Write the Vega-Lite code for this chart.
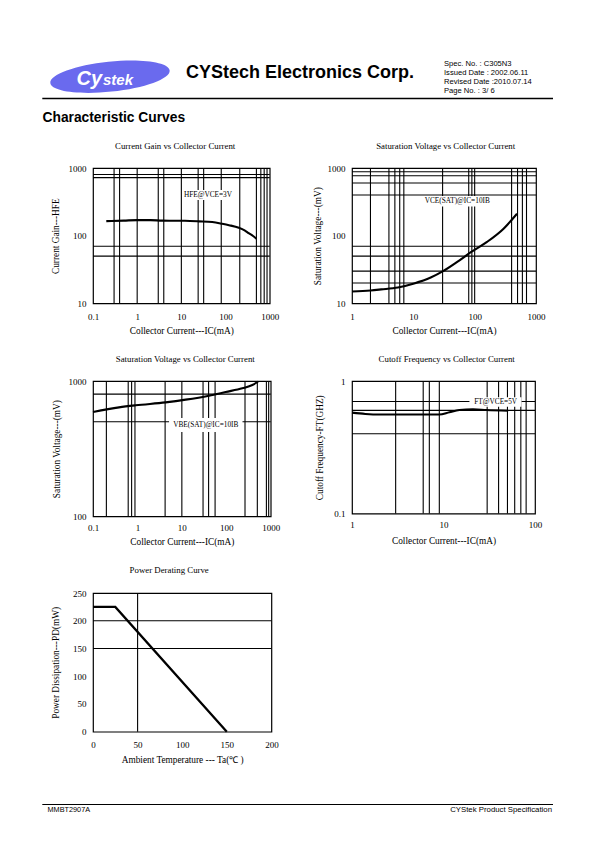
{
  "$schema": "https://vega.github.io/schema/vega-lite/v6.json",
  "padding": 0,
  "background": "white",
  "columns": 4,
  "spacing": 0,
  "bounds": "flush",
  "align": "each",
  "config": {
    "view": {"stroke": null},
    "axis": {"grid": false, "ticks": false, "tickSize": 0, "domain": false, "labelFont": "Liberation Serif", "labelFontSize": 9, "labelColor": "black", "titleFont": "Liberation Serif", "titleFontSize": 9.3, "titleFontWeight": "normal", "titleColor": "black", "labelFlush": false, "labelOverlap": false, "titleBaseline": "middle"},
    "axisBottom": {"labelPadding": 13, "labelBaseline": "middle"},
    "axisLeft": {"labelPadding": 7},
    "title": {"font": "Liberation Serif", "fontSize": 8.8, "fontWeight": "normal", "color": "black", "anchor": "middle", "frame": "group", "baseline": "middle"}
  },
  "concat": [
    {
      "width": 92.8, "height": 167.3,
      "data": {"values": [{}]},
      "layer": [
        {"mark": {"type": "point", "shape": "M -1 0 A 1 0.25 0 1 1 1 0 A 1 0.25 0 1 1 -1 0 Z", "size": 14400, "filled": true, "color": "#6a6aee", "opacity": 1, "angle": -6, "strokeWidth": 0},
         "encoding": {"x": {"datum": 110, "type": "quantitative", "scale": {"domain": [0, 92.8], "nice": false, "zero": false}, "axis": null}, "y": {"datum": 76.7, "type": "quantitative", "scale": {"domain": [0, 167.3], "nice": false, "zero": false, "reverse": true}, "axis": null}}},
        {"mark": {"type": "text", "font": "Liberation Sans", "fontSize": 20, "fontWeight": "bold", "fontStyle": "italic", "color": "white", "align": "left", "baseline": "alphabetic"},
         "encoding": {"x": {"datum": 76.5, "type": "quantitative"}, "y": {"datum": 84.5, "type": "quantitative"}, "text": {"value": "Cy"}}},
        {"mark": {"type": "text", "font": "Liberation Sans", "fontSize": 15, "fontWeight": "bold", "fontStyle": "italic", "color": "white", "align": "left", "baseline": "alphabetic"},
         "encoding": {"x": {"datum": 103, "type": "quantitative"}, "y": {"datum": 84.5, "type": "quantitative"}, "text": {"value": "stek"}}},
        {"mark": {"type": "text", "font": "Liberation Sans", "fontSize": 18, "fontWeight": "bold", "color": "black", "align": "left", "baseline": "alphabetic"},
         "encoding": {"x": {"datum": 186, "type": "quantitative"}, "y": {"datum": 78.3, "type": "quantitative"}, "text": {"value": "CYStech Electronics Corp."}}},
        {"mark": {"type": "text", "font": "Liberation Sans", "fontSize": 7.6, "color": "black", "align": "left", "baseline": "alphabetic", "lineBreak": "\n", "lineHeight": 9.1},
         "encoding": {"x": {"datum": 444, "type": "quantitative"}, "y": {"datum": 66, "type": "quantitative"}, "text": {"value": "Spec. No. : C305N3\nIssued Date : 2002.06.11\nRevised Date :2010.07.14\nPage No. : 3/ 6"}}},
        {"mark": {"type": "rule", "color": "black", "strokeWidth": 1.3},
         "encoding": {"x": {"datum": 42.3, "type": "quantitative"}, "x2": {"datum": 553}, "y": {"datum": 98.5, "type": "quantitative"}}},
        {"mark": {"type": "text", "font": "Liberation Sans", "fontSize": 13.8, "fontWeight": "bold", "color": "black", "align": "left", "baseline": "alphabetic"},
         "encoding": {"x": {"datum": 42.5, "type": "quantitative"}, "y": {"datum": 121.5, "type": "quantitative"}, "text": {"value": "Characteristic Curves"}}}
      ]
    },
    {"width": 1, "height": 1, "data": {"values": []}, "mark": "point"},
    {"width": 1, "height": 1, "data": {"values": []}, "mark": "point"},
    {"width": 1, "height": 1, "data": {"values": []}, "mark": "point"},

    {"width": 92.8, "height": 1, "data": {"values": []}, "mark": "point"},
    {
      "width": 176.7, "height": 135.4,
      "view": {"stroke": "black", "strokeWidth": 1.2},
      "title": {"text": "Current Gain vs Collector Current", "dx": -6.2, "offset": 13.4},
      "layer": [
        {"data": {"values": [{"IC": 0.3}, {"IC": 0.4}, {"IC": 1}, {"IC": 3}, {"IC": 4}, {"IC": 10}, {"IC": 24}, {"IC": 32}, {"IC": 80}, {"IC": 210}, {"IC": 500}, {"IC": 630}, {"IC": 750}, {"IC": 870}]},
         "mark": {"type": "rule", "color": "black", "strokeWidth": 1.1},
         "encoding": {"x": {"field": "IC", "type": "quantitative", "scale": {"type": "log", "domain": [0.1, 1000], "nice": false}, "axis": {"values": [0.1, 1, 10, 100, 1000], "format": "~g", "title": "Collector Current---IC(mA)", "titleX": 88.35, "titleY": 27.3}}}},
        {"data": {"values": [{"HFE": 800}, {"HFE": 720}, {"HFE": 70}, {"HFE": 50}]},
         "mark": {"type": "rule", "color": "black", "strokeWidth": 1.1},
         "encoding": {"y": {"field": "HFE", "type": "quantitative", "scale": {"type": "log", "domain": [10, 1000], "nice": false}, "axis": {"values": [10, 100, 1000], "format": "~g", "title": "Current Gain---HFE", "titleX": -37.8, "titleY": 67.7}}}},
        {"data": {"values": [{}]}, "mark": {"type": "rect", "color": "white"},
         "encoding": {"x": {"datum": 10.6, "type": "quantitative", "scale": {"type": "log", "domain": [0.1, 1000], "nice": false}}, "x2": {"datum": 158}, "y": {"datum": 338, "type": "quantitative", "scale": {"type": "log", "domain": [10, 1000], "nice": false}}, "y2": {"datum": 475}}},
        {"data": {"values": [{}]}, "mark": {"type": "text", "font": "Liberation Serif", "fontSize": 7.3, "color": "black"},
         "encoding": {"x": {"datum": 40, "type": "quantitative", "scale": {"type": "log", "domain": [0.1, 1000], "nice": false}}, "y": {"datum": 401, "type": "quantitative", "scale": {"type": "log", "domain": [10, 1000], "nice": false}}, "text": {"value": "HFE@VCE=3V"}}},
        {"data": {"values": [{"IC": 0.2, "HFE": 164}, {"IC": 0.5, "HFE": 167}, {"IC": 1, "HFE": 170}, {"IC": 2, "HFE": 170}, {"IC": 3.7, "HFE": 167}, {"IC": 12, "HFE": 166}, {"IC": 25, "HFE": 163}, {"IC": 50, "HFE": 159}, {"IC": 84, "HFE": 150}, {"IC": 120, "HFE": 143}, {"IC": 200, "HFE": 131}, {"IC": 270, "HFE": 120}, {"IC": 335, "HFE": 109}, {"IC": 420, "HFE": 99}, {"IC": 500, "HFE": 90}]},
         "mark": {"type": "line", "color": "black", "strokeWidth": 2.1, "interpolate": "monotone"},
         "encoding": {"x": {"field": "IC", "type": "quantitative", "scale": {"type": "log", "domain": [0.1, 1000], "nice": false}}, "y": {"field": "HFE", "type": "quantitative", "scale": {"type": "log", "domain": [10, 1000], "nice": false}}}}
      ]
    },
    {"width": 79.1, "height": 1, "data": {"values": []}, "mark": "point"},
    {
      "width": 184, "height": 135.4,
      "view": {"stroke": "black", "strokeWidth": 1.2},
      "title": {"text": "Saturation Voltage vs Collector Current", "dx": 1.7, "offset": 13.4},
      "layer": [
        {"data": {"values": [{"IC": 2}, {"IC": 4}, {"IC": 5}, {"IC": 6}, {"IC": 7}, {"IC": 30}, {"IC": 80}, {"IC": 90}, {"IC": 100}, {"IC": 400}, {"IC": 500}, {"IC": 600}, {"IC": 700}]},
         "mark": {"type": "rule", "color": "black", "strokeWidth": 1.1},
         "encoding": {"x": {"field": "IC", "type": "quantitative", "scale": {"type": "log", "domain": [1, 1000], "nice": false}, "axis": {"values": [1, 10, 100, 1000], "format": "~g", "title": "Collector Current---IC(mA)", "titleX": 92, "titleY": 27.3}}}},
        {"data": {"values": [{"VCE": 880}, {"VCE": 770}, {"VCE": 600}, {"VCE": 400}, {"VCE": 70}, {"VCE": 50}, {"VCE": 30}, {"VCE": 20}]},
         "mark": {"type": "rule", "color": "black", "strokeWidth": 1.1},
         "encoding": {"y": {"field": "VCE", "type": "quantitative", "scale": {"type": "log", "domain": [10, 1000], "nice": false}, "axis": {"values": [10, 100, 1000], "format": "~g", "title": "Saturation Voltage---(mV)", "titleX": -35, "titleY": 67.7}}}},
        {"data": {"values": [{}]}, "mark": {"type": "rect", "color": "white"},
         "encoding": {"x": {"datum": 14.1, "type": "quantitative", "scale": {"type": "log", "domain": [1, 1000], "nice": false}}, "x2": {"datum": 204}, "y": {"datum": 270, "type": "quantitative", "scale": {"type": "log", "domain": [10, 1000], "nice": false}}, "y2": {"datum": 387}}},
        {"data": {"values": [{}]}, "mark": {"type": "text", "font": "Liberation Serif", "fontSize": 7.3, "color": "black"},
         "encoding": {"x": {"datum": 52, "type": "quantitative", "scale": {"type": "log", "domain": [1, 1000], "nice": false}}, "y": {"datum": 323, "type": "quantitative", "scale": {"type": "log", "domain": [10, 1000], "nice": false}}, "text": {"value": "VCE(SAT)@IC=10IB"}}},
        {"data": {"values": [{"IC": 1, "VCE": 15}, {"IC": 2, "VCE": 15.5}, {"IC": 3, "VCE": 16.1}, {"IC": 5.6, "VCE": 17.2}, {"IC": 10.3, "VCE": 19.7}, {"IC": 19.2, "VCE": 24.1}, {"IC": 30.5, "VCE": 29.9}, {"IC": 52, "VCE": 41}, {"IC": 88, "VCE": 57.5}, {"IC": 159, "VCE": 81}, {"IC": 296, "VCE": 127}, {"IC": 490, "VCE": 211}]},
         "mark": {"type": "line", "color": "black", "strokeWidth": 2.1, "interpolate": "monotone"},
         "encoding": {"x": {"field": "IC", "type": "quantitative", "scale": {"type": "log", "domain": [1, 1000], "nice": false}}, "y": {"field": "VCE", "type": "quantitative", "scale": {"type": "log", "domain": [10, 1000], "nice": false}}}}
      ]
    },

    {"width": 1, "height": 76.8, "data": {"values": []}, "mark": "point"},
    {"width": 1, "height": 1, "data": {"values": []}, "mark": "point"},
    {"width": 1, "height": 1, "data": {"values": []}, "mark": "point"},
    {"width": 1, "height": 1, "data": {"values": []}, "mark": "point"},

    {"width": 92.8, "height": 1, "data": {"values": []}, "mark": "point"},
    {
      "width": 177.7, "height": 135.3,
      "view": {"stroke": "black", "strokeWidth": 1.2},
      "title": {"text": "Saturation Voltage vs Collector Current", "dx": 3.4, "offset": 13.4},
      "layer": [
        {"data": {"values": [{"IC": 0.2}, {"IC": 0.62}, {"IC": 0.74}, {"IC": 0.88}, {"IC": 4.2}, {"IC": 10}, {"IC": 30}, {"IC": 40}, {"IC": 56}, {"IC": 264}, {"IC": 500}, {"IC": 800}, {"IC": 900}]},
         "mark": {"type": "rule", "color": "black", "strokeWidth": 1.1},
         "encoding": {"x": {"field": "IC", "type": "quantitative", "scale": {"type": "log", "domain": [0.1, 1000], "nice": false}, "axis": {"values": [0.1, 1, 10, 100, 1000], "format": "~g", "labelPadding": 11, "title": "Collector Current---IC(mA)", "titleX": 88.85, "titleY": 25.5}}}},
        {"data": {"values": [{"VBE": 800}, {"VBE": 500}]},
         "mark": {"type": "rule", "color": "black", "strokeWidth": 1.1},
         "encoding": {"y": {"field": "VBE", "type": "quantitative", "scale": {"type": "log", "domain": [100, 1000], "nice": false}, "axis": {"values": [100, 1000], "format": "~g", "title": "Saturation Voltage---(mV)", "titleX": -36.1, "titleY": 67.65}}}},
        {"data": {"values": [{}]}, "mark": {"type": "rect", "color": "white"},
         "encoding": {"x": {"datum": 5.15, "type": "quantitative", "scale": {"type": "log", "domain": [0.1, 1000], "nice": false}}, "x2": {"datum": 232}, "y": {"datum": 419, "type": "quantitative", "scale": {"type": "log", "domain": [100, 1000], "nice": false}}, "y2": {"datum": 532}}},
        {"data": {"values": [{}]}, "mark": {"type": "text", "font": "Liberation Serif", "fontSize": 7.3, "color": "black"},
         "encoding": {"x": {"datum": 34.6, "type": "quantitative", "scale": {"type": "log", "domain": [0.1, 1000], "nice": false}}, "y": {"datum": 475, "type": "quantitative", "scale": {"type": "log", "domain": [100, 1000], "nice": false}}, "text": {"value": "VBE(SAT)@IC=10IB"}}},
        {"data": {"values": [{"IC": 0.1, "VBE": 590}, {"IC": 0.385, "VBE": 638}, {"IC": 0.913, "VBE": 661}, {"IC": 4.3, "VBE": 695}, {"IC": 12.2, "VBE": 728}, {"IC": 40.9, "VBE": 779}, {"IC": 97, "VBE": 829}, {"IC": 230, "VBE": 883}, {"IC": 387, "VBE": 934}, {"IC": 519, "VBE": 989}]},
         "mark": {"type": "line", "color": "black", "strokeWidth": 2.1, "interpolate": "monotone"},
         "encoding": {"x": {"field": "IC", "type": "quantitative", "scale": {"type": "log", "domain": [0.1, 1000], "nice": false}}, "y": {"field": "VBE", "type": "quantitative", "scale": {"type": "log", "domain": [100, 1000], "nice": false}}}}
      ]
    },
    {"width": 79.1, "height": 1, "data": {"values": []}, "mark": "point"},
    {
      "width": 183, "height": 132.5,
      "view": {"stroke": "black", "strokeWidth": 1.2},
      "title": {"text": "Cutoff Frequency vs Collector Current", "dx": 3.2, "offset": 13.4},
      "layer": [
        {"data": {"values": [{"IC": 3}, {"IC": 6}, {"IC": 7}, {"IC": 9}, {"IC": 30}, {"IC": 40}, {"IC": 50}, {"IC": 60}, {"IC": 70}, {"IC": 80}]},
         "mark": {"type": "rule", "color": "black", "strokeWidth": 1.1},
         "encoding": {"x": {"field": "IC", "type": "quantitative", "scale": {"type": "log", "domain": [1, 100], "nice": false}, "axis": {"values": [1, 10, 100], "format": "~g", "labelPadding": 11, "title": "Collector Current---IC(mA)", "titleX": 91.5, "titleY": 26.5}}}},
        {"data": {"values": [{"FT": 0.7}, {"FT": 0.6}, {"FT": 0.4}]},
         "mark": {"type": "rule", "color": "black", "strokeWidth": 1.1},
         "encoding": {"y": {"field": "FT", "type": "quantitative", "scale": {"type": "log", "domain": [0.1, 1], "nice": false}, "axis": {"values": [0.1, 1], "format": "~g", "title": "Cutoff Frequency-FT(GHZ)", "titleX": -32.6, "titleY": 66.25}}}},
        {"data": {"values": [{}]}, "mark": {"type": "rect", "color": "white"},
         "encoding": {"x": {"datum": 19.2, "type": "quantitative", "scale": {"type": "log", "domain": [1, 100], "nice": false}}, "x2": {"datum": 71.3}, "y": {"datum": 0.64, "type": "quantitative", "scale": {"type": "log", "domain": [0.1, 1], "nice": false}}, "y2": {"datum": 0.753}}},
        {"data": {"values": [{}]}, "mark": {"type": "text", "font": "Liberation Serif", "fontSize": 7.3, "color": "black"},
         "encoding": {"x": {"datum": 37.2, "type": "quantitative", "scale": {"type": "log", "domain": [1, 100], "nice": false}}, "y": {"datum": 0.691, "type": "quantitative", "scale": {"type": "log", "domain": [0.1, 1], "nice": false}}, "text": {"value": "FT@VCE=5V"}}},
        {"data": {"values": [{"IC": 1, "FT": 0.577}, {"IC": 1.4, "FT": 0.564}, {"IC": 1.97, "FT": 0.558}, {"IC": 4.6, "FT": 0.558}, {"IC": 9, "FT": 0.558}, {"IC": 11.6, "FT": 0.581}, {"IC": 14.9, "FT": 0.604}, {"IC": 21, "FT": 0.611}, {"IC": 29.4, "FT": 0.604}, {"IC": 50.9, "FT": 0.597}]},
         "mark": {"type": "line", "color": "black", "strokeWidth": 2.1, "interpolate": "monotone"},
         "encoding": {"x": {"field": "IC", "type": "quantitative", "scale": {"type": "log", "domain": [1, 100], "nice": false}}, "y": {"field": "FT", "type": "quantitative", "scale": {"type": "log", "domain": [0.1, 1], "nice": false}}}}
      ]
    },

    {"width": 1, "height": 75.5, "data": {"values": []}, "mark": "point"},
    {"width": 1, "height": 1, "data": {"values": []}, "mark": "point"},
    {"width": 1, "height": 1, "data": {"values": []}, "mark": "point"},
    {"width": 1, "height": 1, "data": {"values": []}, "mark": "point"},

    {"width": 92.8, "height": 1, "data": {"values": []}, "mark": "point"},
    {
      "width": 178.4, "height": 138.7,
      "view": {"stroke": "black", "strokeWidth": 1.2},
      "title": {"text": "Power Derating Curve", "dx": -13, "offset": 13.8},
      "layer": [
        {"data": {"values": [{"Ta": 50}]},
         "mark": {"type": "rule", "color": "black", "strokeWidth": 1.1},
         "encoding": {"x": {"field": "Ta", "type": "quantitative", "scale": {"domain": [0, 200], "nice": false, "zero": false}, "axis": {"values": [0, 50, 100, 150, 200], "tickCount": 5, "labelOverlap": false, "title": "Ambient Temperature --- Ta(℃ )", "titleX": 89.2, "titleY": 28}}}},
        {"data": {"values": [{"PD": 200}, {"PD": 150}]},
         "mark": {"type": "rule", "color": "black", "strokeWidth": 1.1},
         "encoding": {"y": {"field": "PD", "type": "quantitative", "scale": {"domain": [0, 250], "nice": false, "zero": false}, "axis": {"values": [0, 50, 100, 150, 200, 250], "tickCount": 6, "labelOverlap": false, "labelSeparation": 0, "title": "Power Dissipation---PD(mW)", "titleX": -37.8, "titleY": 69.35}}}},
        {"data": {"values": [{"Ta": 0, "PD": 225}, {"Ta": 25, "PD": 225}, {"Ta": 150, "PD": 0}]},
         "mark": {"type": "line", "color": "black", "strokeWidth": 2.3},
         "encoding": {"x": {"field": "Ta", "type": "quantitative", "scale": {"domain": [0, 200], "nice": false, "zero": false}}, "y": {"field": "PD", "type": "quantitative", "scale": {"domain": [0, 250], "nice": false, "zero": false}, "axis": {"values": [0, 50, 100, 150, 200, 250], "tickCount": 6, "labelOverlap": false, "title": "Power Dissipation---PD(mW)", "titleX": -37.8, "titleY": 69.35}}}}
      ]
    },
    {"width": 1, "height": 1, "data": {"values": []}, "mark": "point"},
    {"width": 1, "height": 1, "data": {"values": []}, "mark": "point"},

    {
      "width": 92.8, "height": 113,
      "data": {"values": [{}]},
      "layer": [
        {"mark": {"type": "rule", "color": "black", "strokeWidth": 1},
         "encoding": {"x": {"datum": 42.3, "type": "quantitative", "scale": {"domain": [0, 92.8], "nice": false, "zero": false}, "axis": null}, "x2": {"datum": 553}, "y": {"datum": 801.5, "type": "quantitative", "scale": {"domain": [729, 842], "nice": false, "zero": false, "reverse": true}, "axis": null}}},
        {"mark": {"type": "text", "font": "Liberation Sans", "fontSize": 7.3, "color": "black", "align": "left", "baseline": "alphabetic"},
         "encoding": {"x": {"datum": 47.5, "type": "quantitative"}, "y": {"datum": 809, "type": "quantitative"}, "text": {"value": "MMBT2907A"}}},
        {"mark": {"type": "text", "font": "Liberation Sans", "fontSize": 7.8, "color": "black", "align": "right", "baseline": "alphabetic"},
         "encoding": {"x": {"datum": 552, "type": "quantitative"}, "y": {"datum": 809, "type": "quantitative"}, "text": {"value": "CYStek Product Specification"}}}
      ]
    },
    {"width": 1, "height": 1, "data": {"values": []}, "mark": "point"},
    {"width": 1, "height": 1, "data": {"values": []}, "mark": "point"},
    {"width": 1, "height": 1, "data": {"values": []}, "mark": "point"}
  ]
}
